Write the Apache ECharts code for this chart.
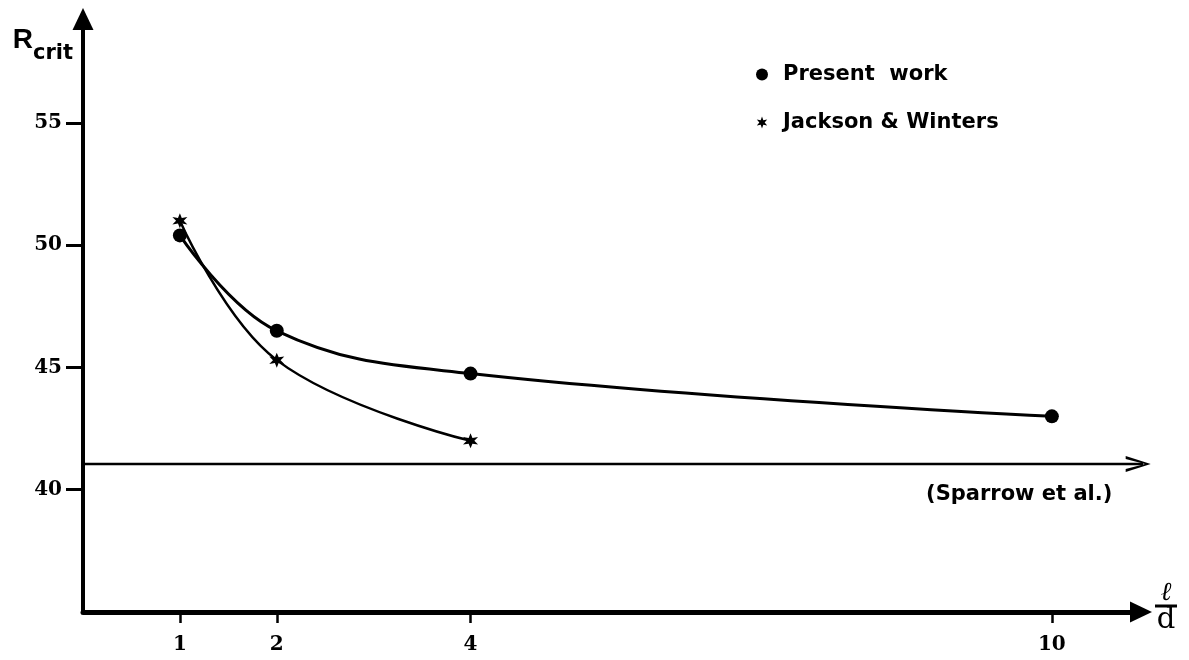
<!DOCTYPE html>
<html>
<head>
<meta charset="utf-8">
<script src="https://cdn.jsdelivr.net/npm/echarts@6/dist/echarts.min.js"></script>
<style>
  html, body { margin: 0; background: #fff; }
  #chart { width: 1189px; height: 660px; }
</style>
</head>
<body>
<div id="chart"></div>
<script>
// l/d values and measured R_crit
const ldRatio = [1, 2, 4, 10];
const presentWork = [50.4, 46.5, 44.75, 43.0];
const jacksonLd = [1, 2, 4];
const jacksonWinters = [51.0, 45.3, 42.0];
// Sparrow et al. limit (horizontal arrow)
const sparrowLd = [0, 11.02];
const sparrowValue = 41.05;
const xTicks = [1, 2, 4, 10];
const yTicks = [40, 45, 50, 55];

const starPath = 'path://M10,0L12.2,6.2L18.66,5L14.4,10L18.66,15L12.2,13.8L10,20L7.8,13.8L1.34,15L5.6,10L1.34,5L7.8,6.2Z';
const chevronPath = 'path://M0,0L24,10L0,20L0,16.2L18.5,10L0,3.8Z';

const chart = echarts.init(document.getElementById('chart'));

const option = {
  backgroundColor: '#fff',
  animation: false,
  grid: { left: 83, right: 48, top: 19, bottom: 48 },
  legend: {
    orient: 'vertical',
    left: 751,
    top: 59,
    itemWidth: 32,
    itemHeight: 12,
    itemGap: 27,
    selectedMode: false,
    data: [
      { name: 'Present  work', icon: 'circle', itemStyle: { color: '#000' } },
      { name: 'Jackson & Winters', icon: starPath, itemStyle: { color: '#000' } }
    ],
    textStyle: { fontFamily: 'DejaVu Sans', fontWeight: 'bold', fontSize: 21, color: '#000' }
  },
  xAxis: {
    type: 'value',
    min: 0,
    max: 10.92,
    axisLine: {
      onZero: false,
      symbol: ['none', 'triangle'],
      symbolSize: [21, 22],
      lineStyle: { color: '#000', width: 5 }
    },
    axisTick: { customValues: xTicks, length: 11, lineStyle: { color: '#000', width: 2.5 } },
    axisLabel: {
      customValues: xTicks,
      margin: 23,
      fontFamily: 'DejaVu Serif',
      fontWeight: 'bold',
      fontSize: 20,
      color: '#000'
    },
    splitLine: { show: false },
    name: '{l|ℓ}\n{bar| }\n{d|d}',
    nameLocation: 'end',
    nameGap: 25,
    nameTextStyle: {
      align: 'center',
      padding: [0, 0, 8, 0],
      rich: {
        l: { fontFamily: 'DejaVu Serif', fontStyle: 'italic', fontSize: 26, lineHeight: 22, color: '#000', align: 'center' },
        bar: { width: 22, height: 3, lineHeight: 3, backgroundColor: '#000', align: 'center' },
        d: { fontFamily: 'DejaVu Serif', fontSize: 29, lineHeight: 26, color: '#000', align: 'center' }
      }
    }
  },
  yAxis: {
    type: 'value',
    min: 35,
    max: 59.25,
    axisLine: {
      symbol: ['none', 'triangle'],
      symbolSize: [21, 22],
      lineStyle: { color: '#000', width: 4 }
    },
    axisTick: { customValues: yTicks, length: 17, lineStyle: { color: '#000', width: 3 } },
    axisLabel: {
      customValues: yTicks,
      margin: 21,
      fontFamily: 'DejaVu Serif',
      fontWeight: 'bold',
      fontSize: 20,
      color: '#000'
    },
    splitLine: { show: false },
    name: '{r|R}{s|crit}',
    nameLocation: 'end',
    nameGap: -49,
    nameTextStyle: {
      align: 'right',
      padding: [0, 10, 0, 0],
      rich: {
        r: { fontFamily: 'Liberation Sans', fontWeight: 'bold', fontSize: 28, color: '#000', padding: [0, 0, 14, 0] },
        s: { fontFamily: 'DejaVu Sans', fontWeight: 'bold', fontSize: 21, color: '#000', padding: [14, 0, 0, 0] }
      }
    }
  },
  series: [
    {
      name: 'Present  work',
      type: 'line',
      data: ldRatio.map((x, i) => [x, presentWork[i]]),
      smooth: 0.4,
      symbol: 'circle',
      symbolSize: 14,
      itemStyle: { color: '#000' },
      lineStyle: { color: '#000', width: 3 },
      z: 3
    },
    {
      name: 'Jackson & Winters',
      type: 'line',
      data: jacksonLd.map((x, i) => [x, jacksonWinters[i]]),
      smooth: 0.4,
      symbol: starPath,
      symbolSize: 15,
      itemStyle: { color: '#000' },
      lineStyle: { color: '#000', width: 2.5 },
      z: 3
    },
    {
      name: 'Sparrow et al.',
      type: 'line',
      clip: false,
      silent: true,
      data: [
        { value: [sparrowLd[0], sparrowValue], symbol: 'none' },
        {
          value: [sparrowLd[1], sparrowValue],
          symbol: chevronPath,
          symbolSize: [25, 16],
          symbolOffset: [-12.5, 0],
          label: {
            show: true,
            formatter: '(Sparrow et al.)',
            position: 'bottom',
            distance: 5,
            offset: [-119, 7],
            fontFamily: 'DejaVu Sans',
            fontWeight: 'bold',
            fontSize: 21,
            color: '#000'
          }
        }
      ],
      showSymbol: true,
      itemStyle: { color: '#000' },
      lineStyle: { color: '#000', width: 2.5 }
    }
  ]
};

chart.setOption(option);
window.addEventListener('resize', function () {
  chart.resize();
});
</script>
</body>
</html>
